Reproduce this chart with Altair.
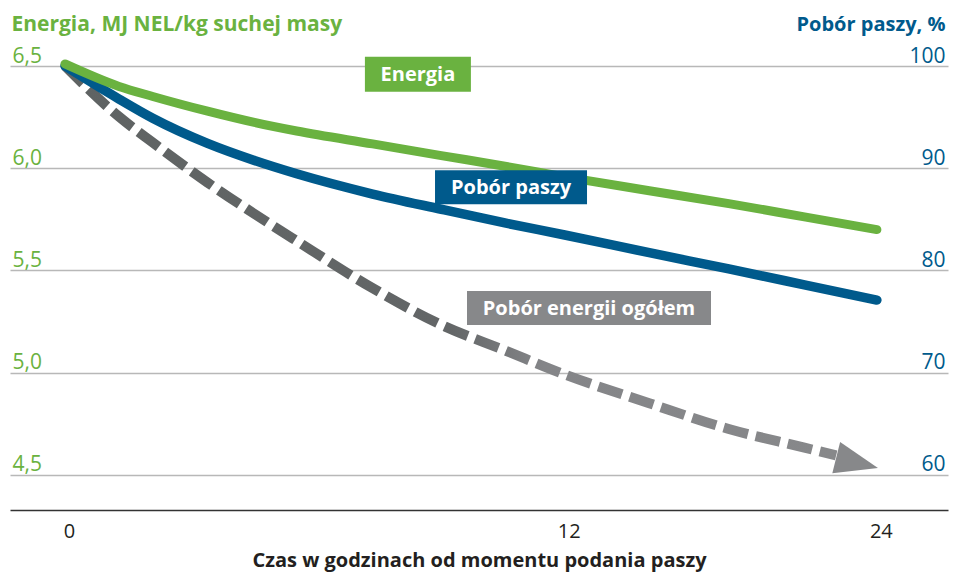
import altair as alt
import pandas as pd

# ---- data ----
hours = [0, 0.5, 1, 2, 3, 4, 6, 8, 10, 12, 15, 18, 21, 24]
energy = [6.51, 6.40, 6.351, 6.279, 6.224, 6.182, 6.119, 6.062, 6.010, 5.958, 5.890, 5.827, 5.762, 5.700]
feed_pct = [100.0, 96.77, 94.89, 92.43, 90.76, 89.46, 87.48, 85.99, 84.65, 83.47, 81.74, 80.15, 78.60, 77.11]

total_hours = [0, 0.5, 1, 2, 3, 4, 6, 8, 10, 12, 15, 18, 21, 22.3]
total_pct = [100.0, 95.04, 92.51, 88.60, 85.54, 82.90, 78.27, 74.69, 72.19, 69.83, 67.02, 64.50, 62.68, 61.91]

arrow_hour = [23.17]
arrow_pct = [61.2]

label_text = ["Energia", "Pobór paszy", "Pobór energii ogółem"]
label_hour = [7.3, 10.2, 12.84]
label_energy = [6.46, 5.907, 5.317]

x_ticks = [0, 12, 24]
energy_ticks = [4.5, 5.0, 5.5, 6.0, 6.5]
pct_ticks = [60, 70, 80, 90, 100]

GREEN = "#6ab240"
BLUE = "#005a8c"
GRAY = "#87888a"
DARKGRAY = "#5f6363"
FONT = "Open Sans"

df_green = pd.DataFrame({"hour": hours, "energy": energy})
df_blue = pd.DataFrame({"hour": hours, "pct": feed_pct})
df_gray = pd.DataFrame({"hour": total_hours, "pct": total_pct})
df_arrow = pd.DataFrame({"hour": arrow_hour, "pct": arrow_pct})

X = alt.X(
    "hour:Q",
    scale=alt.Scale(type="pow", exponent=0.7, domain=[-0.513, 27.06], nice=False, zero=False),
    axis=alt.Axis(
        values=x_ticks, ticks=False, tickSize=0, grid=False, domain=True,
        domainColor="#333333", domainWidth=1.6, labelFont=FONT, labelFontSize=20,
        labelColor="#231f20", labelPadding=11, labelOffset=4, labelFlush=False,
        title="Czas w godzinach od momentu podania paszy", titleFont=FONT,
        titleFontSize=20, titleFontWeight="bold", titleColor="#231f20",
        titleY=56, titleBaseline="alphabetic",
    ),
)

Y_E = alt.Y(
    "energy:Q",
    scale=alt.Scale(domain=[4.32885, 6.5], nice=False, zero=False),
    axis=alt.Axis(
        orient="left", values=energy_ticks, ticks=False, tickSize=0, domain=False,
        grid=True, gridColor="#b8b8b8", gridWidth=1.6,
        labelExpr="replace(format(datum.value, '.1f'), '.', ',')",
        labelAlign="left", labelBaseline="alphabetic", labelPadding=-2, labelOffset=-4,
        labelFont=FONT, labelFontSize=21, labelColor=GREEN,
        title="Energia, MJ NEL/kg suchej masy", titleFont=FONT, titleFontSize=21,
        titleFontWeight="bold", titleColor=GREEN, titleAngle=0, titleAlign="left",
        titleBaseline="alphabetic", titleX=1, titleY=-36,
    ),
)

Y_P = alt.Y(
    "pct:Q",
    scale=alt.Scale(domain=[56.577, 100], nice=False, zero=False),
    axis=alt.Axis(
        orient="right", values=pct_ticks, ticks=False, tickSize=0, domain=False,
        grid=False, labelAlign="right", labelBaseline="alphabetic", labelPadding=-3,
        labelOffset=-4, labelFont=FONT, labelFontSize=21, labelColor=BLUE,
        title="Pobór paszy, %", titleFont=FONT, titleFontSize=20,
        titleFontWeight="bold", titleColor=BLUE, titleAngle=0, titleAlign="right",
        titleBaseline="alphabetic", titleX=-3, titleY=-36,
    ),
)

gray_line = alt.Chart(df_gray).mark_line(
    interpolate="monotone", strokeWidth=10, strokeDash=[25, 8], strokeCap="butt",
    stroke=alt.Gradient(
        gradient="linear", x1=0, y1=0, x2=1, y2=0,
        stops=[
            alt.GradientStop(offset=0, color=DARKGRAY),
            alt.GradientStop(offset=0.5, color="#636667"),
            alt.GradientStop(offset=0.62, color="#848588"),
            alt.GradientStop(offset=1, color=GRAY),
        ],
    ),
).encode(x=X, y=Y_P)

arrow = alt.Chart(df_arrow).mark_point(
    shape="M1,0L-1,-0.75L-1,0.75Z", size=1849, angle=14, filled=True,
    color=GRAY, opacity=1, strokeWidth=0,
).encode(x=X, y=Y_P)

blue_line = alt.Chart(df_blue).mark_line(
    interpolate="monotone", strokeWidth=9.5, strokeCap="round", color=BLUE,
).encode(x=X, y=Y_P)

green_line = alt.Chart(df_green).mark_line(
    interpolate="monotone", strokeWidth=9, strokeCap="round", color=GREEN,
).encode(x=X, y=Y_E)

box_specs = [
    (GREEN, "M-1,-0.33H1V0.33H-1Z", 106 ** 2),
    (BLUE, "M-1,-0.224H1V0.224H-1Z", 152 ** 2),
    (GRAY, "M-1,-0.139H1V0.139H-1Z", 244 ** 2),
]
label_layers = []
for i, (col, path, sz) in enumerate(box_specs):
    d = pd.DataFrame({"hour": [label_hour[i]], "energy": [label_energy[i]], "text": [label_text[i]]})
    box = alt.Chart(d).mark_point(
        shape=path, size=sz, filled=True, color=col, opacity=1, strokeWidth=0,
    ).encode(x=X, y=Y_E)
    txt = alt.Chart(d).mark_text(
        font=FONT, fontWeight="bold", fontSize=20, color="white",
        align="center", baseline="middle", dy=1,
    ).encode(x=X, y=Y_E, text="text:N")
    label_layers += [box, txt]

right_group = alt.layer(gray_line, arrow, blue_line)
left_group = alt.layer(green_line, *label_layers)

chart = alt.layer(right_group, left_group).resolve_scale(y="independent").properties(
    width=938, height=444,
    autosize=alt.AutoSizeParams(type="none"),
    padding={"left": 2, "top": 58, "right": 7, "bottom": 62},
    background="white",
).configure_view(stroke=None)

chart.save("out.html", embed_options={"renderer": "svg", "actions": False})
